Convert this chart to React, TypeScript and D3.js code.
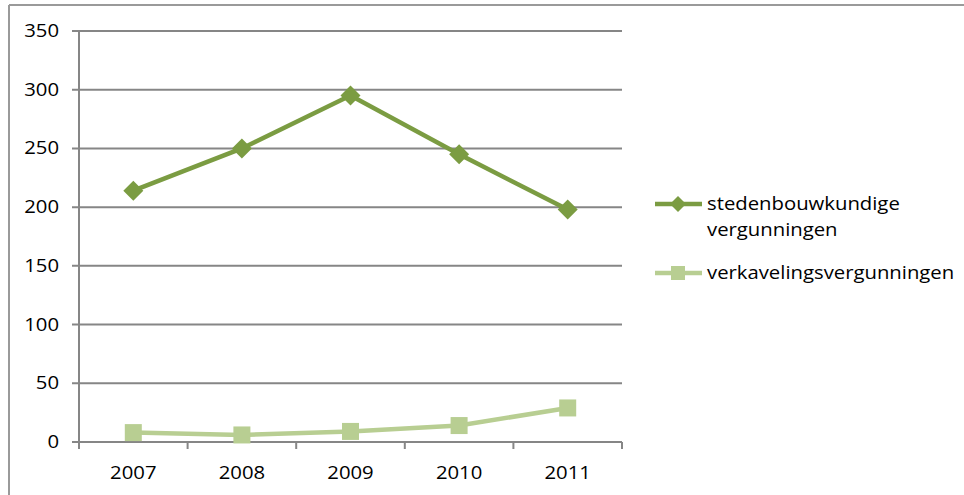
import React from "react";
import * as d3 from "d3";

const categories = ["2007", "2008", "2009", "2010", "2011"];
const stedenbouwkundige = [214, 250, 295, 245, 198];
const verkavelings = [8, 6, 9, 14, 29];
const yTicks = [0, 50, 100, 150, 200, 250, 300, 350];
const seriesNames = ["stedenbouwkundige vergunningen", "verkavelingsvergunningen"];

const W = 964;
const H = 495;
const FONT = "'Open Sans', sans-serif";

export default function App() {
  const x = d3.scaleBand<string>().domain(categories).range([79, 622]);
  const y = d3.scaleLinear().domain([0, 350]).range([442, 31]);
  const cx = (c: string) => (x(c) as number) + x.bandwidth() / 2;
  const line = d3
    .line<number>()
    .x((_, i) => cx(categories[i]))
    .y((d) => y(d));
  const dark = "#7B9C42";
  const light = "#B8CE92";
  const grid = "#868686";
  const sx = 1.16;

  const diamond = (px: number, py: number, r: number, key?: any) => (
    <path
      key={key}
      d={`M${px},${py - r}L${px + r},${py}L${px},${py + r}L${px - r},${py}Z`}
      fill={dark}
    />
  );
  const square = (px: number, py: number, s: number, key?: any) => (
    <rect key={key} x={px - s / 2} y={py - s / 2} width={s} height={s} fill={light} />
  );

  const txt = (t: string, px: number, py: number, anchor: string, key?: any) => (
    <text
      key={key}
      transform={`translate(${px},${py}) scale(${sx},1)`}
      textAnchor={anchor}
      fontFamily={FONT}
      fontSize={17.5}
      fill="#000"
    >
      {t}
    </text>
  );

  return (
    <svg
      width={W}
      height={H}
      style={{ position: "absolute", left: 0, top: 0, background: "#fff" }}
    >
      {/* outer border */}
      <line x1={9} y1={5} x2={W} y2={5} stroke="#9a9a9a" strokeWidth={2} />
      <line x1={9} y1={5} x2={9} y2={H} stroke="#9a9a9a" strokeWidth={2} />

      {/* gridlines */}
      {yTicks.map((t) => (
        <line key={t} x1={72} x2={622} y1={y(t)} y2={y(t)} stroke={grid} strokeWidth={2} />
      ))}
      {/* y axis */}
      <line x1={79} x2={79} y1={y(350)} y2={y(0) + 7} stroke={grid} strokeWidth={2} />
      {/* x ticks */}
      {[...categories.map((c) => x(c) as number), 622].map((px, i) => (
        <line key={i} x1={px} x2={px} y1={y(0)} y2={y(0) + 7} stroke={grid} strokeWidth={2} />
      ))}
      {/* y labels */}
      {yTicks.map((t) => txt(String(t), 59, y(t) + 6, "end", "y" + t))}
      {/* x labels */}
      {categories.map((c) => txt(c, cx(c), 479, "middle", "x" + c))}

      {/* series */}
      <path d={line(verkavelings) || ""} fill="none" stroke={light} strokeWidth={4.5} />
      {verkavelings.map((v, i) => square(cx(categories[i]), y(v), 17, "s" + i))}
      <path d={line(stedenbouwkundige) || ""} fill="none" stroke={dark} strokeWidth={4.5} />
      {stedenbouwkundige.map((v, i) => diamond(cx(categories[i]), y(v), 10, "d" + i))}

      {/* legend */}
      <line x1={655} x2={702} y1={204} y2={204} stroke={dark} strokeWidth={4.5} />
      {diamond(678, 204, 8)}
      {txt("stedenbouwkundige", 707, 210, "start")}
      {txt("vergunningen", 707, 236, "start")}
      <line x1={655} x2={702} y1={273} y2={273} stroke={light} strokeWidth={4.5} />
      {square(678, 273, 14)}
      {txt(seriesNames[1], 707, 279, "start")}
    </svg>
  );
}
